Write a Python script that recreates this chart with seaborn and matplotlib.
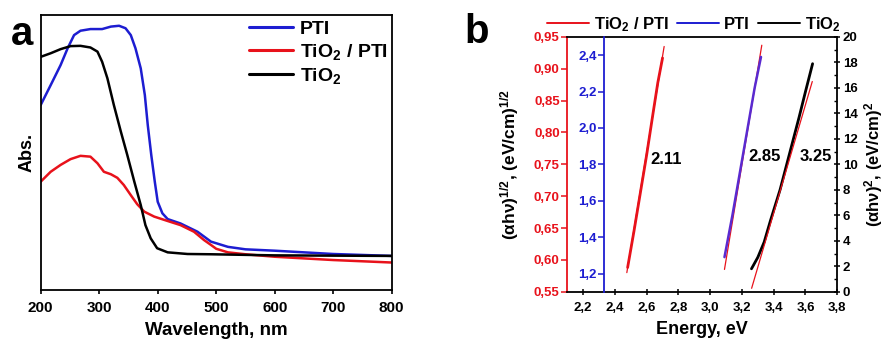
import numpy as np
import pandas as pd
import matplotlib
matplotlib.use("Agg")
import matplotlib.pyplot as plt
from matplotlib.ticker import FuncFormatter, MultipleLocator
from matplotlib.lines import Line2D
import seaborn as sns

# --- panel a: UV-vis absorbance (normalised) ---
WL_PTI = [200, 217, 234, 246, 257, 268, 285, 305, 320, 334, 345, 354, 362, 371,
          378, 383, 389, 395, 400, 408, 417, 439, 468, 491, 520, 550, 600, 650,
          700, 800]
ABS_PTI = [0.673, 0.745, 0.818, 0.879, 0.927, 0.943, 0.949, 0.949, 0.958, 0.961,
           0.952, 0.927, 0.879, 0.806, 0.709, 0.60, 0.491, 0.394, 0.321, 0.279,
           0.258, 0.242, 0.212, 0.176, 0.157, 0.148, 0.143, 0.137, 0.131, 0.124]
WL_TIO2 = [200, 217, 234, 251, 268, 285, 297, 305, 314, 325, 337, 348, 360, 371,
           379, 388, 399, 417, 451, 491, 600, 800]
ABS_TIO2 = [0.848, 0.861, 0.876, 0.887, 0.888, 0.882, 0.867, 0.83, 0.77, 0.673,
            0.576, 0.491, 0.394, 0.309, 0.236, 0.188, 0.152, 0.137, 0.131, 0.13,
            0.126, 0.124]
WL_MIX = [200, 217, 234, 251, 268, 285, 297, 308, 320, 331, 342, 354, 365, 377,
          394, 417, 439, 462, 479, 491, 500, 520, 550, 600, 700, 800]
ABS_MIX = [0.394, 0.43, 0.455, 0.476, 0.488, 0.485, 0.461, 0.43, 0.421, 0.408,
           0.382, 0.345, 0.312, 0.285, 0.267, 0.251, 0.236, 0.212, 0.182, 0.164,
           0.150, 0.137, 0.13, 0.121, 0.109, 0.10]

# --- panel b: Tauc plots ---
E_MIX = [2.48, 2.52, 2.56, 2.60, 2.64, 2.67, 2.70]
TAUC_MIX = [0.588, 0.645, 0.705, 0.765, 0.83, 0.878, 0.917]
E_MIX_FIT = [2.475, 2.71]
TAUC_MIX_FIT = [0.580, 0.935]

E_PTI = [3.09, 3.14, 3.19, 3.24, 3.28, 3.32]
TAUC_PTI = [1.29, 1.52, 1.77, 2.02, 2.22, 2.39]
E_PTI_FIT = [3.09, 3.325]
TAUC_PTI_FIT = [0.585, 0.937]

E_TIO2 = [3.26, 3.30, 3.34, 3.38, 3.44, 3.48, 3.52, 3.56, 3.60, 3.645]
TAUC_TIO2 = [1.8, 2.7, 3.9, 5.6, 8.0, 9.9, 11.8, 13.7, 15.7, 17.9]
E_TIO2_FIT = [3.261, 3.643]
TAUC_TIO2_FIT = [0.27, 16.5]

GAPS = ["2.11", "2.85", "3.25"]
GAP_POS = [(2.624, 0.757), (3.24, 0.762), (3.561, 0.762)]

RED, BLUE, BLACK = "#e8121b", "#1d1dd1", "#000000"

sns.set_theme(style="ticks")
plt.rcParams["font.family"] = ["Liberation Sans", "DejaVu Sans"]
plt.rcParams["font.weight"] = "bold"
plt.rcParams["axes.labelweight"] = "bold"
plt.rcParams["text.color"] = "black"
plt.rcParams["axes.labelcolor"] = "black"
plt.rcParams["xtick.color"] = "black"
plt.rcParams["ytick.color"] = "black"
plt.rcParams["axes.edgecolor"] = "black"
plt.rcParams["mathtext.fontset"] = "custom"
plt.rcParams["mathtext.rm"] = "Liberation Sans:bold"
plt.rcParams["mathtext.bf"] = "Liberation Sans:bold"
plt.rcParams["mathtext.it"] = "Liberation Sans:bold"
plt.rcParams["mathtext.default"] = "bf"

fig = plt.figure(figsize=(8.85, 3.42), dpi=100)
ax_a = fig.add_axes([0.046, 0.152, 0.3966, 0.804])
ax_b = fig.add_axes([0.641, 0.147, 0.305, 0.745])

# ---------------- panel a ----------------
df_a = pd.concat([
    pd.DataFrame({"wl": WL_PTI, "abs": ABS_PTI, "sample": "PTI"}),
    pd.DataFrame({"wl": WL_MIX, "abs": ABS_MIX, "sample": "TiO$_2$ / PTI"}),
    pd.DataFrame({"wl": WL_TIO2, "abs": ABS_TIO2, "sample": "TiO$_2$"}),
])
sns.lineplot(data=df_a, x="wl", y="abs", hue="sample", ax=ax_a,
             palette={"PTI": BLUE, "TiO$_2$ / PTI": RED, "TiO$_2$": BLACK},
             linewidth=1.8, sort=False)
for ln in ax_a.lines:
    ln.set_solid_joinstyle("round")
ax_a.set_xlim(200, 800)
ax_a.set_ylim(0, 1)
ax_a.set_yticks([])
ax_a.set_xticks(range(200, 801, 100))
ax_a.tick_params(axis="x", labelsize=11, length=3, width=1.2, pad=5)
ax_a.set_xlabel("Wavelength, nm", fontsize=13.5, labelpad=5)
ax_a.set_ylabel("Abs.", fontsize=13, labelpad=4)
for s in ax_a.spines.values():
    s.set_linewidth(1.3)
leg = ax_a.legend(loc="upper right", bbox_to_anchor=(1.012, 1.01), frameon=False,
                  fontsize=14, handlelength=2.3, handletextpad=0.35,
                  labelspacing=0.22, borderaxespad=0)
for line in leg.get_lines():
    line.set_linewidth(2.2)
fig.text(0.012, 0.9, "a", fontsize=29, fontweight="bold", va="center")

# ---------------- panel b ----------------
ax_blue = ax_b.twinx()
ax_k = ax_b.twinx()

sns.lineplot(x=E_MIX, y=TAUC_MIX, ax=ax_b, color=RED, linewidth=2.0)
sns.lineplot(x=E_MIX_FIT, y=TAUC_MIX_FIT, ax=ax_b, color=RED, linewidth=0.9)
sns.lineplot(x=E_PTI_FIT, y=TAUC_PTI_FIT, ax=ax_b, color=RED, linewidth=0.9)
sns.lineplot(x=E_PTI, y=TAUC_PTI, ax=ax_blue, color="#5a2ad0", linewidth=1.8)
sns.lineplot(x=E_TIO2, y=TAUC_TIO2, ax=ax_k, color=BLACK, linewidth=2.0)
sns.lineplot(x=E_TIO2_FIT, y=TAUC_TIO2_FIT, ax=ax_k, color=RED, linewidth=0.9)

ax_b.set_xlim(2.1, 3.8)
ax_b.set_ylim(0.55, 0.95)
ax_k.set_ylim(0, 20)

comma2 = FuncFormatter(lambda v, p: f"{v:.2f}".replace(".", ","))
comma1 = FuncFormatter(lambda v, p: f"{v:.1f}".replace(".", ","))

ax_b.xaxis.set_major_locator(MultipleLocator(0.2))
ax_b.xaxis.set_major_formatter(comma1)
ax_b.yaxis.set_major_locator(MultipleLocator(0.05))
ax_b.yaxis.set_major_formatter(comma2)
ax_b.tick_params(axis="x", labelsize=9.5, direction="inout", length=5, width=1.1, pad=5)
ax_b.tick_params(axis="y", labelsize=9.5, colors=RED, direction="out", length=4,
                 width=1.1, pad=1.5)
ax_b.spines["left"].set_color(RED)
ax_b.spines["right"].set_visible(False)

ax_blue.yaxis.set_ticks_position("left")
ax_blue.yaxis.set_major_locator(MultipleLocator(0.2))
ax_blue.yaxis.set_major_formatter(comma1)
ax_blue.spines["left"].set_visible(True)
ax_blue.spines["left"].set_position(("axes", 0.137))
ax_blue.spines["left"].set_color(BLUE)
for k in ["right", "top", "bottom"]:
    ax_blue.spines[k].set_visible(False)
ax_blue.tick_params(axis="y", labelsize=9.5, colors=BLUE, direction="out",
                    length=4, width=1.1, pad=1.5)
ax_blue.set_ylim(1.1, 2.5)

ax_k.yaxis.set_major_locator(MultipleLocator(2))
ax_k.yaxis.set_minor_locator(MultipleLocator(1))
ax_k.tick_params(axis="y", which="major", labelsize=9.5, direction="inout",
                 length=5, width=1.1, pad=1.5)
ax_k.tick_params(axis="y", which="minor", direction="in", length=2.5, width=1.0)
for k in ["left", "top", "bottom"]:
    ax_k.spines[k].set_visible(False)

for a in (ax_b, ax_blue, ax_k):
    for s in a.spines.values():
        s.set_linewidth(1.3)
    for lab in a.get_xticklabels() + a.get_yticklabels():
        lab.set_fontweight("bold")

ax_b.set_xlabel("Energy, eV", fontsize=13, labelpad=5)
ax_b.set_ylabel(r"($\alpha$h$\nu$)$^{1/2}$, (eV/cm)$^{1/2}$", fontsize=12.5,
                labelpad=9)
ax_k.set_ylabel(r"($\alpha$h$\nu$)$^{2}$, (eV/cm)$^{2}$", fontsize=12,
                labelpad=3)

for txt, (ex, ey) in zip(GAPS, GAP_POS):
    ax_b.text(ex, ey, txt, fontsize=12, fontweight="bold", ha="left", va="center")

handles = [Line2D([], [], color=RED, lw=1.4), Line2D([], [], color=BLUE, lw=1.4),
           Line2D([], [], color=BLACK, lw=1.4)]
ax_b.legend(handles, ["TiO$_2$ / PTI", "PTI", "TiO$_2$"], loc="center",
            bbox_to_anchor=(0.469, 1.05), ncol=3, frameon=False, fontsize=12,
            handlelength=2.5, handletextpad=0.3, columnspacing=0.5,
            borderaxespad=0, borderpad=0)
fig.text(0.525, 0.905, "b", fontsize=29, fontweight="bold", va="center")

fig.savefig("out.png", dpi=100)
